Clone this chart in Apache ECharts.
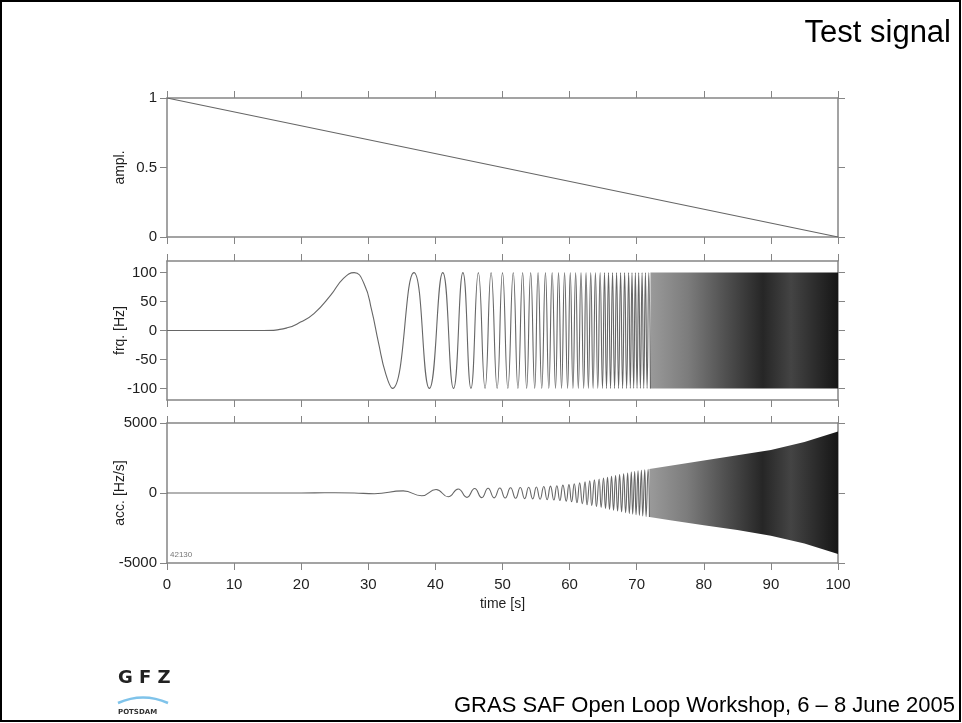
<!DOCTYPE html>
<html>
<head>
<meta charset="utf-8">
<title>Test signal</title>
<script src="https://cdn.jsdelivr.net/npm/echarts@6/dist/echarts.min.js"></script>
<style>
    html, body { margin: 0; padding: 0; background: #fff; }
    #test-signal-chart { width: 962px; height: 723px; }
</style>
</head>
<body>
<div id="test-signal-chart"></div>
<script>
// time axis ticks
const timeTicks = [0, 10, 20, 30, 40, 50, 60, 70, 80, 90, 100];

// ampl. panel
const ampT = [0, 100];
const ampV = [1, 0];

// frq. panel (first lobe + peaks / troughs)
const frqT = [0, 10, 14.4, 17.9, 19.9, 21.9, 24.4, 26.3, 27.9, 29.4, 30.5, 31.5, 32.6, 33.6,
    36.8, 39.1, 41.1, 42.7, 44.1, 45.3, 46.4, 47.4, 48.3, 49.2, 50.0, 50.8, 51.6, 52.3, 53.0, 53.6,
    54.2, 54.8, 55.3, 55.85, 56.4, 56.9, 57.4, 57.9, 58.35, 58.8, 59.25, 59.7, 60.1, 60.5, 60.9, 61.3,
    61.7, 62.1, 62.45, 62.8, 63.15, 63.5, 63.85, 64.2, 64.55, 64.9, 65.2, 65.5, 65.8, 66.1, 66.4, 66.7,
    67.0, 67.3, 67.6, 67.9, 68.2, 68.5, 68.8, 69.05, 69.3, 69.55, 69.8, 70.05, 70.3, 70.55, 70.8, 71.05,
    71.3, 71.55, 71.8, 72.05];
const frqV = [0, 0, 0, 4.6, 14.5, 29, 61, 90, 100, 80, 35, -20, -75, -100,
    100, -100, 100, -100, 100, -100, 100, -100, 100, -100, 100, -100, 100, -100, 100, -100,
    100, -100, 100, -100, 100, -100, 100, -100, 100, -100, 100, -100, 100, -100, 100, -100,
    100, -100, 100, -100, 100, -100, 100, -100, 100, -100, 100, -100, 100, -100, 100, -100,
    100, -100, 100, -100, 100, -100, 100, -100, 100, -100, 100, -100, 100, -100, 100, -100,
    100, -100, 100, -100];
// dense part (lines merge into a band)
const frqBandT = [72.05, 100];
const frqBandUp = [100, 100];
const frqBandLo = [-100, -100];

// acc. panel
const accT = [0, 18, 22, 25, 27.9, 30.9, 35.2, 37.95, 40.1, 41.9, 43.4, 44.7, 45.85, 46.9, 47.85,
    48.75, 49.6, 50.4, 51.2, 51.95, 52.65, 53.3, 53.9, 54.5, 55.05, 55.6, 56.15, 56.65, 57.15, 57.65,
    58.1, 58.55, 59.0, 59.5, 59.9, 60.3, 60.7, 61.1, 61.5, 61.9, 62.3, 62.6, 63.0, 63.3, 63.7,
    64.0, 64.4, 64.7, 65.05, 65.35, 65.65, 65.95, 66.25, 66.55, 66.85, 67.15, 67.45, 67.75, 68.05, 68.35,
    68.65, 68.9, 69.2, 69.4, 69.7, 69.9, 70.2, 70.4, 70.7, 70.9, 71.2, 71.4, 71.7, 71.9];
const accV = [0, 0, 10, 15, 0, -50, 150, -200, 250, -270, 290, -310, 320, -330, 340,
    -350, 355, -360, 370, -380, 390, -400, 410, -420, 430, -445, 460, -475, 490, -505,
    520, -540, 560, -580, 600, -630, 660, -690, 720, -760, 800, -840, 870, -900, 940,
    -970, 1000, -1030, 1060, -1100, 1130, -1160, 1190, -1220, 1250, -1280, 1310, -1340, 1370, -1400,
    1430, -1460, 1490, -1510, 1530, -1550, 1580, -1600, 1620, -1640, 1660, -1680, 1700, -1710];
const accBandT = [71.9, 75, 80, 85, 90, 95, 100];
const accBandUp = [1710, 1950, 2330, 2700, 3080, 3650, 4400];
const accBandLo = [-1710, -1950, -2300, -2650, -3050, -3600, -4350];

const frqTicks = [-100, -50, 0, 50, 100];

const FONT = 'Liberation Sans';
const AXIS_COLOR = '#858585';
const LINE_COLOR = '#666666';

const bandStops = [
    { offset: 0, color: '#9a9a9a' },
    { offset: 0.2, color: '#7c7c7c' },
    { offset: 0.4, color: '#505050' },
    { offset: 0.6, color: '#262626' },
    { offset: 0.75, color: '#444444' },
    { offset: 1, color: '#161616' },
];

function pairs(xs, ys) {
    return xs.map((x, i) => [x, ys[i]]);
}

// one polygon between upper and lower envelope
function bandRenderer(ts, up, lo) {
    return function (params, api) {
        if (params.dataIndex !== 0) return null;
        const top = ts.map((t, i) => api.coord([t, up[i]]));
        const bot = ts.map((t, i) => api.coord([t, lo[i]])).reverse();
        const x0 = top[0][0];
        const x1 = top[top.length - 1][0];
        return {
            type: 'polygon',
            shape: { points: top.concat(bot) },
            style: {
                fill: new echarts.graphic.LinearGradient(x0, 0, x1, 0, bandStops, true),
            },
        };
    };
}

const grids = [
    { left: 167, right: 124, top: 98, height: 139 },
    { left: 167, right: 124, top: 261, height: 139 },
    { left: 167, right: 124, top: 423, height: 140 },
];

const axisLine = { show: true, onZero: false, lineStyle: { color: AXIS_COLOR, width: 1.5 } };
const axisTick = { show: true, inside: false, length: 7, lineStyle: { color: AXIS_COLOR, width: 1 } };
const labelStyle = { fontFamily: FONT, fontSize: 15, color: '#1e1e1e', formatter: (v) => String(v) };

const xAxes = [];
grids.forEach((g, i) => {
    const base = {
        type: 'value',
        gridIndex: i,
        min: 0,
        max: 100,
        interval: 10,
        axisLine: axisLine,
        axisTick: axisTick,
        splitLine: { show: false },
    };
    xAxes.push(Object.assign({}, base, {
        position: 'bottom',
        axisLabel: i === 2 ? Object.assign({ margin: 14 }, labelStyle) : { show: false },
        name: i === 2 ? 'time [s]' : '',
        nameLocation: 'middle',
        nameGap: 34,
        nameMoveOverlap: false,
        nameTextStyle: { fontFamily: FONT, fontSize: 14, color: '#1e1e1e' },
    }));
    xAxes.push(Object.assign({}, base, { position: 'top', axisLabel: { show: false } }));
});

const yDefs = [
    { name: 'ampl.', min: 0, max: 1, interval: 0.5 },
    { name: 'frq. [Hz]', min: -120, max: 120, custom: frqTicks },
    { name: 'acc. [Hz/s]', min: -5000, max: 5000, interval: 5000 },
];
const yAxes = [];
yDefs.forEach((d, i) => {
    const base = {
        type: 'value',
        gridIndex: i,
        min: d.min,
        max: d.max,
        axisLine: axisLine,
        splitLine: { show: false },
    };
    if (d.interval) base.interval = d.interval;
    const tick = Object.assign({}, axisTick);
    if (d.custom) tick.customValues = d.custom;
    base.axisTick = tick;
    const label = Object.assign({ margin: 10 }, labelStyle);
    if (d.custom) label.customValues = d.custom;
    yAxes.push(Object.assign({}, base, {
        position: 'left',
        axisLabel: label,
        name: d.name,
        nameLocation: 'middle',
        nameRotate: 90,
        nameGap: 40,
        nameMoveOverlap: false,
        nameTextStyle: { fontFamily: FONT, fontSize: 14, color: '#1e1e1e' },
    }));
    yAxes.push(Object.assign({}, base, { position: 'right', axisLabel: { show: false } }));
});

const lineBase = {
    type: 'line',
    showSymbol: false,
    symbol: 'none',
    sampling: null,
    lineStyle: { color: LINE_COLOR, width: 1.1 },
    z: 3,
};

let option = {
    animation: false,
    backgroundColor: '#ffffff',
    title: {
        text: 'Test signal',
        right: 6,
        top: 13,
        textStyle: { fontFamily: FONT, fontSize: 31, fontWeight: 'normal', color: '#000' },
    },
    grid: grids,
    xAxis: xAxes,
    yAxis: yAxes,
    series: [
        Object.assign({}, lineBase, {
            name: 'ampl.',
            xAxisIndex: 0,
            yAxisIndex: 0,
            data: pairs(ampT, ampV),
        }),
        Object.assign({}, lineBase, {
            name: 'frq.',
            xAxisIndex: 2,
            yAxisIndex: 2,
            smooth: 0.5,
            data: pairs(frqT, frqV),
        }),
        {
            type: 'custom',
            name: 'frq. band',
            xAxisIndex: 2,
            yAxisIndex: 2,
            renderItem: bandRenderer(frqBandT, frqBandUp, frqBandLo),
            data: pairs(frqBandT, frqBandUp),
            z: 2,
        },
        Object.assign({}, lineBase, {
            name: 'acc.',
            xAxisIndex: 4,
            yAxisIndex: 4,
            smooth: 0.5,
            data: pairs(accT, accV),
        }),
        {
            type: 'custom',
            name: 'acc. band',
            xAxisIndex: 4,
            yAxisIndex: 4,
            renderItem: bandRenderer(accBandT, accBandUp, accBandLo),
            data: pairs(accBandT, accBandUp),
            z: 2,
        },
    ],
    graphic: [
        {
            type: 'rect',
            shape: { x: 1, y: 1, width: 959, height: 720 },
            style: { fill: null, stroke: '#000', lineWidth: 2 },
            silent: true,
        },
        {
            type: 'text',
            left: 170,
            top: 551,
            style: { text: '42130', fontFamily: FONT, fontSize: 8, fill: '#777' },
        },
        {
            type: 'text',
            right: 7,
            top: 695,
            style: {
                text: 'GRAS SAF Open Loop Workshop, 6 – 8 June 2005',
                fontFamily: FONT,
                fontSize: 22,
                fill: '#000',
            },
        },
        {
            type: 'text',
            left: 118,
            top: 669,
            style: { text: 'G F Z', fontFamily: 'DejaVu Sans', fontWeight: 'bold', fontSize: 18, fill: '#222' },
        },
        {
            type: 'bezierCurve',
            shape: { x1: 118, y1: 703, x2: 168, y2: 703, cpx1: 143, cpy1: 692 },
            style: { stroke: '#7fc3ea', lineWidth: 2.5, fill: null },
        },
        {
            type: 'text',
            left: 118,
            top: 709,
            style: { text: 'POTSDAM', fontFamily: 'DejaVu Sans', fontWeight: 'bold', fontSize: 7, fill: '#333' },
        },
    ],
};

let chart = echarts.init(document.getElementById('test-signal-chart'));
window.addEventListener('resize', () => {
    chart.resize();
});
chart.setOption(option);
</script>
</body>
</html>
